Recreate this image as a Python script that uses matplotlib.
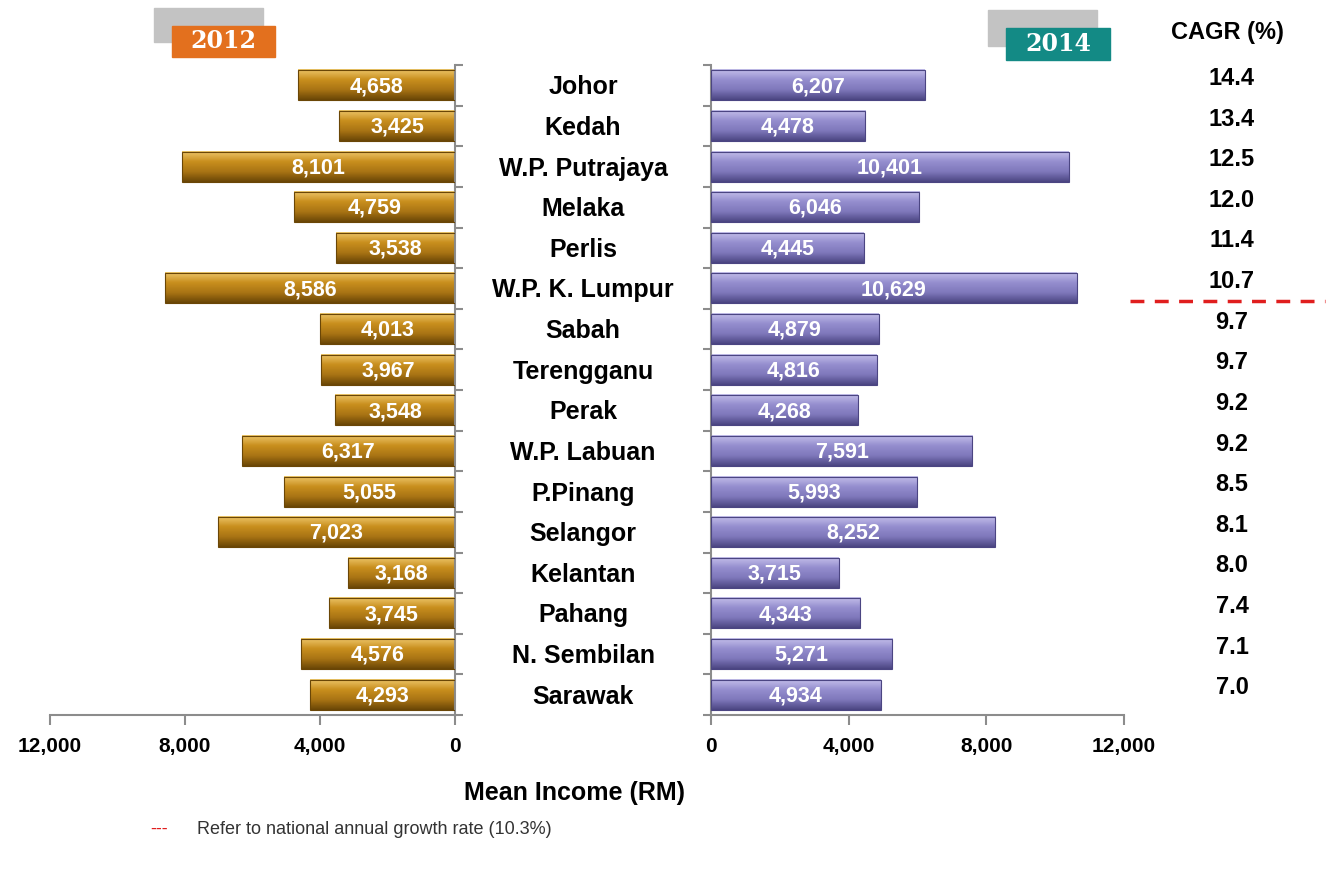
import numpy as np
import matplotlib.pyplot as plt
import matplotlib.transforms as mtransforms
from matplotlib.patches import Rectangle
from matplotlib.lines import Line2D
from matplotlib.colors import LinearSegmentedColormap

plt.rcParams['font.family'] = ['Liberation Sans', 'DejaVu Sans']

states = ['Johor', 'Kedah', 'W.P. Putrajaya', 'Melaka', 'Perlis', 'W.P. K. Lumpur',
          'Sabah', 'Terengganu', 'Perak', 'W.P. Labuan', 'P.Pinang', 'Selangor',
          'Kelantan', 'Pahang', 'N. Sembilan', 'Sarawak']
income_2012 = [4658, 3425, 8101, 4759, 3538, 8586, 4013, 3967, 3548, 6317, 5055, 7023,
               3168, 3745, 4576, 4293]
income_2014 = [6207, 4478, 10401, 6046, 4445, 10629, 4879, 4816, 4268, 7591, 5993, 8252,
               3715, 4343, 5271, 4934]
cagr = [14.4, 13.4, 12.5, 12.0, 11.4, 10.7, 9.7, 9.7, 9.2, 9.2, 8.5, 8.1, 8.0, 7.4, 7.1, 7.0]
national_cagr = 10.3
xticks = [0, 4000, 8000, 12000]

W, H = 1328, 869
fig = plt.figure(figsize=(W / 100, H / 100), dpi=100)


def px(x0, y0, x1, y1):
    # pixel box (top-left origin) -> figure fraction [l, b, w, h]
    return [x0 / W, 1 - y1 / H, (x1 - x0) / W, (y1 - y0) / H]


ax1 = fig.add_axes(px(50, 65, 455, 715))
ax2 = fig.add_axes(px(711, 65, 1124, 715))

gold = LinearSegmentedColormap.from_list('gold', ['#EDC66A', '#C98F1E', '#A97414', '#6A4606'])
purple = LinearSegmentedColormap.from_list('purple', ['#C4BFEA', '#958ECF', '#7F78BB', '#4B4582'])

grad = np.linspace(0, 1, 64).reshape(-1, 1)
ypos = np.arange(len(states))
spine_col = '#8C8C8C'


def draw_bars(ax, vals, cmap, edge):
    bars = ax.barh(ypos, vals, height=0.74, color='none', edgecolor=edge, lw=0.8, zorder=3)
    for b in bars:
        x0, y0, w, h = b.get_x(), b.get_y(), b.get_width(), b.get_height()
        ax.imshow(grad, cmap=cmap, extent=(x0, x0 + w, y0 + h, y0), aspect='auto',
                  zorder=2, interpolation='bilinear')
    for i, v in enumerate(vals):
        ax.text(v / 2, i + 0.03, f'{v:,}', ha='center', va='center', color='white',
                fontsize=15.5, fontweight='bold', zorder=4)


draw_bars(ax1, income_2012, gold, '#6A4606')
draw_bars(ax2, income_2014, purple, '#4B4582')

for ax in (ax1, ax2):
    ax.set_ylim(15.5, -0.5)
    ax.set_xticks(xticks)
    ax.set_xticklabels([f'{t:,}' for t in xticks], fontsize=15, fontweight='bold')
    ax.set_yticks(np.arange(-0.5, 16, 1))
    ax.set_yticklabels([])
    ax.tick_params(axis='x', length=7, width=1.5, color=spine_col, pad=9)
    ax.tick_params(axis='y', length=6, width=1.5, color=spine_col)
    ax.spines['top'].set_visible(False)
    ax.spines['bottom'].set_color(spine_col)
    ax.spines['bottom'].set_linewidth(1.5)
    ax.set_facecolor('none')

ax1.set_xlim(12000, 0)
ax1.spines['left'].set_visible(False)
ax1.spines['right'].set_color(spine_col)
ax1.spines['right'].set_linewidth(1.5)
ax1.yaxis.tick_right()

ax2.set_xlim(0, 12000)
ax2.spines['right'].set_visible(False)
ax2.spines['left'].set_color(spine_col)
ax2.spines['left'].set_linewidth(1.5)

# state names between the two panels
lab_tr = mtransforms.blended_transform_factory(fig.transFigure, ax1.transData)
for i, s in enumerate(states):
    fig.text(583 / W, i + 0.05, s, transform=lab_tr, ha='center', va='center',
             fontsize=18, fontweight='bold')

# CAGR column
cagr_tr = mtransforms.blended_transform_factory(fig.transFigure, ax2.transData)
for i, c in enumerate(cagr):
    fig.text(1232 / W, i - 0.17, f'{c:.1f}', transform=cagr_tr, ha='center', va='center',
             fontsize=17, fontweight='bold')
fig.text(1227 / W, 1 - 32 / H, 'CAGR (%)', ha='center', va='center', fontsize=17,
         fontweight='bold')

# national growth rate line between 10.7 and 9.7
fig.add_artist(Line2D([1130 / W, 1325 / W], [5.3, 5.3], transform=cagr_tr, color='#E01E1E',
                      lw=2.5, ls=(0, (4, 3))))

# year tags
for gray_box, box, col, yr in [((154, 8, 263, 42), (172, 26, 275, 57), '#E3701E', '2012'),
                               ((988, 10, 1097, 46), (1006, 28, 1110, 60), '#138A85', '2014')]:
    g = px(*gray_box)
    fig.add_artist(Rectangle((g[0], g[1]), g[2], g[3], transform=fig.transFigure,
                             color='#C3C3C3', zorder=1))
    b = px(*box)
    fig.add_artist(Rectangle((b[0], b[1]), b[2], b[3], transform=fig.transFigure,
                             color=col, zorder=2))
    fig.text(b[0] + b[2] / 2, b[1] + b[3] / 2, yr, ha='center', va='center', color='white',
             fontsize=17, fontweight='bold', family='DejaVu Serif', zorder=3)

fig.text(575 / W, 1 - 793 / H, 'Mean Income (RM)', ha='center', va='center', fontsize=18,
         fontweight='bold')

# footnote
fig.text(150 / W, 1 - 829 / H, '---', color='#E01E1E', fontsize=13, va='center')
fig.text(197 / W, 1 - 829 / H, 'Refer to national annual growth rate (%.1f%%)' % national_cagr,
         color='#333333', fontsize=13, va='center')

fig.savefig('out.png', dpi=100)
